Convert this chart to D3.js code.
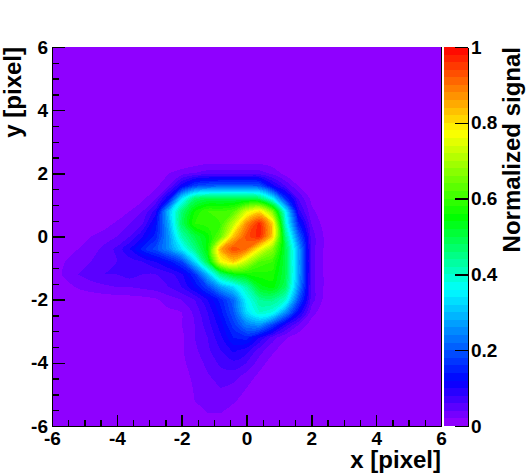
<!DOCTYPE html>
<html>
<head>
<meta charset="utf-8">
<script src="https://d3js.org/d3.v7.min.js"></script>
<style>
body { margin: 0; background: #fff; }
text { font-family: "Liberation Sans", Arial, sans-serif; font-weight: bold; fill: #000; }
</style>
</head>
<body>
<script>
// signal in percent: rows go from y=6 down to y=-6, columns from x=-6 to x=6, step 0.4
var signal = [
[0,0,0,0,0,0,0,0,0,0,0,0,0,0,0,0,0,0,0,0,0,0,0,0,0,0,0,0,0,0,0],
[0,0,0,0,0,0,0,0,0,0,0,0,0,0,0,0,0,0,0,0,0,0,0,0,0,0,0,0,0,0,0],
[0,0,0,0,0,0,0,0,0,0,0,0,0,0,0,0,0,0,0,0,0,0,0,0,0,0,0,0,0,0,0],
[0,0,0,0,0,0,0,0,0,0,0,0,0,0,0,0,0,0,0,0,0,0,0,0,0,0,0,0,0,0,0],
[0,0,0,0,0,0,0,0,0,0,0,0,0,0,0,0,0,0,0,0,0,0,0,0,0,0,0,0,0,0,0],
[0,0,0,0,0,0,0,0,0,0,0,0,0,0,0,0,0,0,0,0,0,0,0,0,0,0,0,0,0,0,0],
[0,0,0,0,0,0,0,0,0,0,0,0,0,0,0,0,0,0,0,0,0,0,0,0,0,0,0,0,0,0,0],
[0,0,0,0,0,0,0,0,0,0,0,0,0,0,0,0,0,0,0,0,0,0,0,0,0,0,0,0,0,0,0],
[0,0,0,0,0,0,0,0,0,0,0,0,0,0,0,0,0,0,0,0,0,0,0,0,0,0,0,0,0,0,0],
[0,0,0,0,0,0,0,0,0,0,0,0.5,1,1,1,1,1,0.5,0,0,0,0,0,0,0,0,0,0,0,0,0],
[0,0,0,0,0,0,0,0,0.6,2,3,4,5,5,5,5,5,3.5,1.2,0.3,0,0,0,0,0,0,0,0,0,0,0],
[0,0,0,0,0,0,0,0.4,1.5,4,11,18,20,21,21,21,20,11,6,2,0.5,0,0,0,0,0,0,0,0,0,0],
[0,0,0,0,0,0,0.4,1.5,4,12,34,47,50,50,50,50,48,36,16,6,1.5,0.3,0,0,0,0,0,0,0,0,0],
[0,0,0,0,0,0.3,2,4,9,30,46,56,60,60,62,74,80,66,36,9,2.5,0.8,0,0,0,0,0,0,0,0,0],
[0,0,0,0,1,2.5,4,6,13,28,48,58,59,60,72,88,97,82,40,15,4,1.2,0,0,0,0,0,0,0,0,0],
[0,0,1,2,3,4,6,10,15,26,42,50,55,64,83,93,97,82,46,22,5,1.8,0.5,0,0,0,0,0,0,0,0],
[0,0.5,2,3,4.5,6.5,10,15,19,25,34,45,55,85,94,90,77,67,50,28,5,1.8,0.5,0,0,0,0,0,0,0,0],
[0.3,2,3,4,5,6,7,8,10,13,18,32,50,76,82,72,62,60,50,28,5,1.8,0.5,0,0,0,0,0,0,0,0],
[0.5,2.5,4,5,6,6,7,6,6,7,9.5,16,30,46,54,56,57,57,50,28,5,1.8,0.5,0,0,0,0,0,0,0,0],
[0.2,1,2.3,3,3.5,4,4,4.5,5,6,8,12,18,27,33,42,53,55,48,26,5,1.8,0.3,0,0,0,0,0,0,0,0],
[0,0,0,0.5,0.7,0.8,1,1.2,1.7,3,4,6,10,15,22,36,44,45,40,20,5,1.5,0,0,0,0,0,0,0,0,0],
[0,0,0,0,0,0,0,0,0.5,1.5,2,4.5,8,13,20,33,40,38,26,12,3,0.5,0,0,0,0,0,0,0,0,0],
[0,0,0,0,0,0,0,0,0,0.7,2,4,7,11,17,24,26,18,9,4,1,0,0,0,0,0,0,0,0,0,0],
[0,0,0,0,0,0,0,0,0,0,1.5,4,6,9.5,14,15,10,5,2.3,0.7,0,0,0,0,0,0,0,0,0,0,0],
[0,0,0,0,0,0,0,0,0,0,1.7,3.5,5.5,8,10.5,9,5,2.5,0.7,0,0,0,0,0,0,0,0,0,0,0,0],
[0,0,0,0,0,0,0,0,0,0,1.5,3,4.5,6.5,7.5,6,3,1,0,0,0,0,0,0,0,0,0,0,0,0,0],
[0,0,0,0,0,0,0,0,0,0,1,2.6,3.8,5,5,3.3,1.5,0,0,0,0,0,0,0,0,0,0,0,0,0,0],
[0,0,0,0,0,0,0,0,0,0,0.8,2.2,3,4,3.3,2,0.5,0,0,0,0,0,0,0,0,0,0,0,0,0,0],
[0,0,0,0,0,0,0,0,0,0,0.3,2,2.7,3,2.3,1,0,0,0,0,0,0,0,0,0,0,0,0,0,0,0],
[0,0,0,0,0,0,0,0,0,0,0,1,2,2,1,0,0,0,0,0,0,0,0,0,0,0,0,0,0,0,0],
[0,0,0,0,0,0,0,0,0,0,0,0,1,1,0,0,0,0,0,0,0,0,0,0,0,0,0,0,0,0,0]
];

var xMajor = [-6, -4, -2, 0, 2, 4, 6];
var yMajor = [-6, -4, -2, 0, 2, 4, 6];
var minorTicks = [-5.5, -5, -4.5, -3.5, -3, -2.5, -1.5, -1, -0.5, 0.5, 1, 1.5, 2.5, 3, 3.5, 4.5, 5, 5.5];
var zMajor = [0, 0.2, 0.4, 0.6, 0.8, 1];

// palette stops picked from the colour bar
var stopValues = [0, 0.12, 0.36, 0.55, 0.775, 1];
var stopColors = ["#9c00ff", "#0000ff", "#00ffff", "#00ff00", "#ffff00", "#ff0000"];

var nLevels = 50;
var gridStep = 0.4;

var left = 52, right = 441, top_ = 47, bottom = 426;

var x = d3.scaleLinear().domain([-6, 6]).range([left, right]);
var y = d3.scaleLinear().domain([-6, 6]).range([bottom, top_]);
var z = d3.scaleLinear().domain([0, 1]).range([bottom, top_]);
var color = d3.scaleLinear().domain(stopValues).range(stopColors).interpolate(d3.interpolateRgb);

function levelColor(k){
	return color((k + 0.5)/nLevels);
}

var svg = d3.select("body").append("svg")
	.attr("width", 526)
	.attr("height", 474)
	.style("display", "block");

// heatmap: filled bands like the root contour drawing
svg.append("rect")
	.attr("x", left)
	.attr("y", top_)
	.attr("width", right - left)
	.attr("height", bottom - top_)
	.attr("fill", levelColor(0));

var nCols = signal[0].length;
var nRows = signal.length;
var thresholds = d3.range(1, nLevels).map(function(k){ return k*100/nLevels; });

var contours = d3.contours()
	.size([nCols, nRows])
	.thresholds(thresholds)(d3.merge(signal));

// contour coordinates have grid point i at i+0.5
var ringLine = d3.line()
	.x(function(p){ return x(-6 + (p[0] - 0.5)*gridStep); })
	.y(function(p){ return y(6 - (p[1] - 0.5)*gridStep); })
	.curve(d3.curveCatmullRomClosed);

function contourPath(d){
	var out = "";
	for(let polygon of d.coordinates){
		for(let ring of polygon){
			out += ringLine(ring.slice(0, -1));
		}
	}
	return out;
}

svg.append("g").selectAll("path")
	.data(contours)
	.enter()
	.append("path")
	.attr("d", contourPath)
	.attr("fill", function(d, i){ return levelColor(i + 1); })
	.attr("fill-rule", "evenodd")
	.attr("shape-rendering", "crispEdges");

// colour bar
var barX = 444, barW = 24;
svg.append("g").selectAll("rect")
	.data(d3.range(nLevels))
	.enter()
	.append("rect")
	.attr("x", barX)
	.attr("width", barW)
	.attr("y", function(k){ return z((k + 1)/nLevels); })
	.attr("height", function(k){ return z(k/nLevels) - z((k + 1)/nLevels); })
	.attr("fill", levelColor)
	.attr("shape-rendering", "crispEdges");

function tickLabel(d){
	return String(d);
}

function styleAxis(g, size){
	g.selectAll("path, line").attr("stroke", "#000").attr("stroke-width", 1.4).attr("shape-rendering", "crispEdges");
	g.selectAll("text").style("font-size", size + "px");
}

// axes, ticks point inwards
svg.append("g")
	.attr("transform", "translate(0," + bottom + ")")
	.call(d3.axisBottom(x).tickValues(minorTicks).tickSize(-6).tickSizeOuter(0).tickFormat(""))
	.call(styleAxis, 19);
svg.append("g")
	.attr("transform", "translate(0," + bottom + ")")
	.call(d3.axisBottom(x).tickValues(xMajor).tickSize(-11).tickSizeOuter(0).tickPadding(6).tickFormat(tickLabel))
	.call(styleAxis, 19);

svg.append("g")
	.attr("transform", "translate(" + left + ",0)")
	.call(d3.axisLeft(y).tickValues(minorTicks).tickSize(-7).tickSizeOuter(0).tickFormat(""))
	.call(styleAxis, 19);
svg.append("g")
	.attr("transform", "translate(" + left + ",0)")
	.call(d3.axisLeft(y).tickValues(yMajor).tickSize(-13).tickSizeOuter(0).tickPadding(4).tickFormat(tickLabel))
	.call(styleAxis, 19);

// right edge of the frame
svg.append("line")
	.attr("x1", right).attr("x2", right)
	.attr("y1", top_).attr("y2", bottom)
	.attr("stroke", "#000")
	.attr("shape-rendering", "crispEdges");

svg.append("g")
	.attr("transform", "translate(468,0)")
	.call(d3.axisRight(z).tickValues(zMajor).tickSize(-13).tickSizeOuter(0).tickPadding(3).tickFormat(tickLabel))
	.call(styleAxis, 19);

// titles
svg.append("text")
	.attr("x", right)
	.attr("y", 468)
	.attr("text-anchor", "end")
	.style("font-size", "24px")
	.text("x [pixel]");

svg.append("text")
	.attr("transform", "translate(21," + top_ + ") rotate(-90)")
	.attr("text-anchor", "end")
	.style("font-size", "24px")
	.text("y [pixel]");

svg.append("text")
	.attr("transform", "translate(520," + top_ + ") rotate(-90)")
	.attr("text-anchor", "end")
	.style("font-size", "24px")
	.text("Normalized signal");
</script>
</body>
</html>
